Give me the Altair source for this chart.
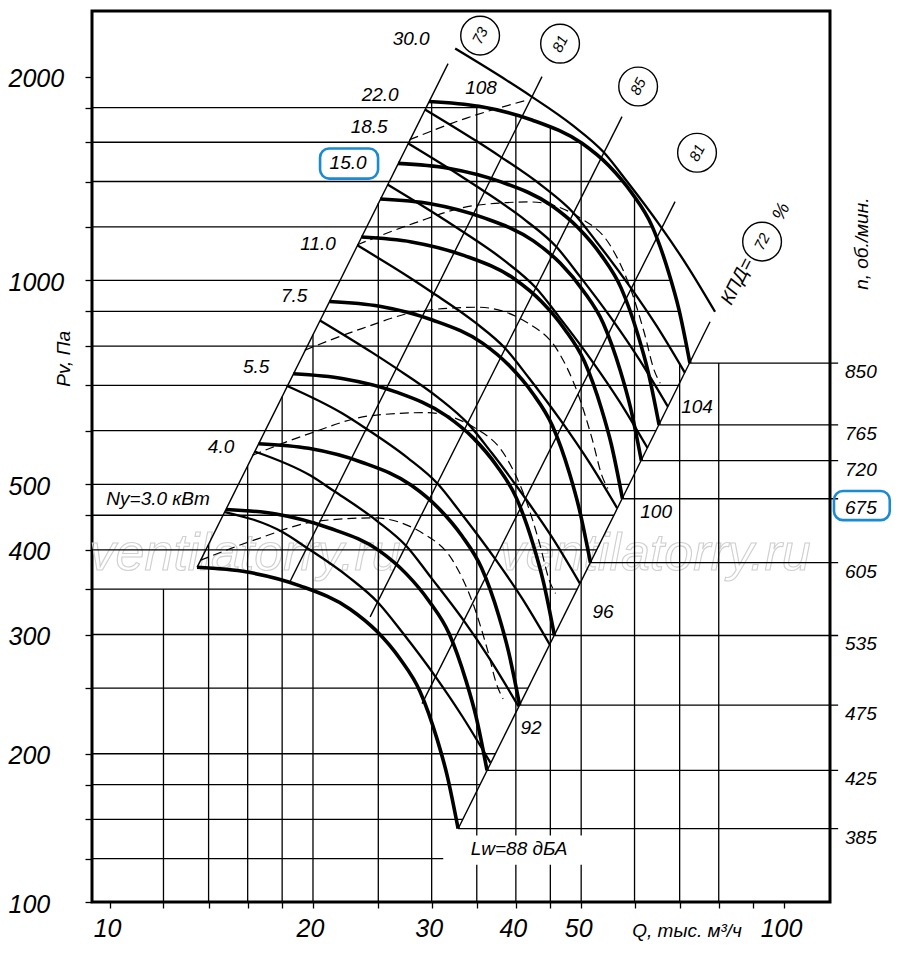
import altair as alt
import pandas as pd

# ---------------- axis values ----------------
Q_MIN, Q_MAX = 9.40, 117.0
P_MIN, P_MAX = 120.8, 2500.0
x_tick_values = [10, 12, 14, 16, 18, 20, 25, 30, 35, 40, 45, 50, 60, 70, 80, 90, 100]
x_label_values = [10, 20, 30, 40, 50, 100]
y_tick_values = [120.8, 140, 160, 180, 200, 250, 300, 350, 400, 450, 500, 600,
                 700, 800, 900, 1000, 1200, 1400, 1600, 1800, 2000]
y_label_values = [200, 300, 400, 500, 1000, 2000]

# ---------------- fan curves (thick), one per rpm ----------------
rpm_values = [385, 425, 475, 535, 605, 675, 720, 765, 850]
fan_q = [
    [13.46, 15.97, 19.14, 22.71, 24.90, 26.94, 28.84, 30.57, 31.62, 32.84],
    [14.86, 17.63, 21.13, 25.07, 27.49, 29.74, 31.84, 33.75, 34.91, 36.25],
    [16.61, 19.70, 23.62, 28.02, 30.72, 33.24, 35.58, 37.72, 39.01, 40.52],
    [18.70, 22.19, 26.60, 31.56, 34.60, 37.44, 40.08, 42.48, 43.94, 45.63],
    [21.15, 25.10, 30.08, 35.69, 39.13, 42.33, 45.32, 48.04, 49.69, 51.61],
    [23.60, 28.00, 33.56, 39.81, 43.65, 47.23, 50.56, 53.60, 55.44, 57.58],
    [25.17, 29.87, 35.79, 42.47, 46.57, 50.38, 53.93, 57.17, 59.13, 61.41],
    [26.75, 31.73, 38.03, 45.13, 49.48, 53.53, 57.30, 60.74, 62.83, 65.25],
    [29.72, 35.26, 42.26, 50.14, 54.97, 59.48, 63.67, 67.49, 69.81, 72.50],
]
fan_p = [
    [377, 371, 354, 327, 303, 276, 247, 210, 186, 155],
    [459, 452, 431, 399, 369, 336, 301, 256, 227, 189],
    [574, 565, 539, 498, 461, 420, 376, 320, 283, 236],
    [728, 716, 684, 631, 585, 533, 477, 406, 359, 299],
    [931, 916, 874, 808, 748, 682, 610, 519, 459, 383],
    [1159, 1140, 1088, 1005, 931, 848, 759, 646, 572, 476],
    [1319, 1298, 1238, 1144, 1060, 965, 864, 735, 651, 542],
    [1489, 1465, 1398, 1291, 1196, 1090, 975, 829, 734, 612],
    [1838, 1808, 1726, 1594, 1477, 1345, 1204, 1024, 907, 755],
]

# ---------------- motor power curves (thin) ----------------
power_labels = ["3.0", "4.0", "5.5", "7.5", "11.0", "15.0", "18.5", "22.0", "30.0"]
power_q = [
    [14.81, 18.02, 19.50, 22.57, 25.01, 27.15, 30.39, 33.32, 36.67],
    [16.39, 19.83, 21.46, 24.85, 27.53, 29.88, 33.44, 36.68, 40.36],
    [18.28, 22.06, 23.87, 27.64, 30.62, 33.24, 37.20, 40.80, 44.90],
    [20.48, 24.46, 26.46, 30.64, 33.94, 36.85, 41.24, 45.23, 49.77],
    [23.27, 27.78, 30.06, 34.80, 38.56, 41.86, 46.85, 51.38, 56.54],
    [25.80, 30.81, 33.34, 38.60, 42.76, 46.42, 51.96, 56.98, 62.70],
    [27.67, 33.04, 35.75, 41.39, 45.86, 49.78, 55.71, 61.10, 67.24],
    [29.32, 35.01, 37.88, 43.85, 48.59, 52.75, 59.03, 64.74, 71.24],
    [32.51, 38.82, 42.00, 48.63, 53.88, 58.49, 65.46, 71.79, 79.00],
]
power_p = [
    [455, 425, 404, 365, 334, 302, 260, 227, 194],
    [559, 515, 489, 442, 405, 365, 315, 275, 235],
    [699, 637, 606, 547, 501, 452, 389, 340, 290],
    [873, 783, 744, 672, 615, 556, 478, 418, 357],
    [1127, 1011, 960, 867, 794, 717, 617, 539, 461],
    [1386, 1243, 1181, 1067, 977, 882, 759, 663, 566],
    [1594, 1429, 1358, 1226, 1123, 1014, 873, 762, 651],
    [1789, 1605, 1525, 1377, 1261, 1139, 980, 856, 731],
    [2200, 1973, 1875, 1693, 1550, 1400, 1205, 1052, 899],
]

# ---------------- dashed curves ----------------
dash_q = [
    [13.60, 16.52, 20.28, 24.56, 29.13, 32.28, 34.56, 36.26, 37.52, 38.30],
    [16.27, 19.76, 24.26, 29.37, 34.84, 38.61, 41.33, 43.37, 44.87, 45.81],
    [19.45, 23.63, 29.01, 35.13, 41.67, 46.17, 49.43, 51.87, 53.67, 54.78],
    [23.27, 28.26, 34.70, 42.02, 49.84, 55.23, 59.13, 62.03, 64.19, 65.52],
    [27.83, 33.80, 41.50],
]
dash_p = [
    [386, 415, 441, 446, 423, 385, 333, 286, 252, 241],
    [552, 594, 631, 638, 605, 550, 476, 409, 360, 345],
    [789, 849, 902, 913, 865, 787, 681, 585, 515, 493],
    [1129, 1215, 1290, 1306, 1237, 1126, 975, 837, 736, 705],
    [1614, 1737, 1846],
]

# ---------------- efficiency lines ----------------
eff_labels = ["73", "81", "85", "81", "72"]
eff_q1 = [13.46, 18.50, 24.31, 29.03, 32.84]
eff_p1 = [377, 359.6, 318.6, 237.2, 155]
eff_q2 = [31.73, 43.74, 57.49, 68.91, 77.66]
eff_p2 = [2090, 2000, 1745.6, 1307.6, 869]
eff_circle_q = [35.40, 46.52, 60.74, 74.28, 92.77]
eff_circle_p = [2299, 2237, 1934, 1544, 1141]

# ---------------- grid lines ----------------
grid_h_p = [140, 160, 180, 200, 250, 300, 350, 400, 450, 500, 600, 700, 800,
            900, 1000, 1200, 1400, 1600, 1800]
grid_h_q_end = [31.21, 33.37, 35.39, 37.30, 41.71, 45.69, 49.35, 52.75, 55.96,
                58.98, 64.61, 69.79, 71.71, 69.93, 67.96, 63.75, 57.61, 49.77, 35.97]
grid_v_q = [12, 14, 16, 18, 20, 25, 30, 35, 40, 45, 50, 60, 70, 80]
grid_v_p_top = [350, 407.9, 532.7, 674.2, 832.4, 1300.6, 1836, 1810, 1752, 1680,
                1596, 1328, 755.5, 755.5]
rpm_line_q_end = 120.3

# ---------------- labels ----------------
ny_text = ["Ny=3.0 кВт", "4.0", "5.5", "7.5", "11.0", "15.0", "18.5", "22.0", "30.0"]
ny_q = [11.78, 14.61, 16.47, 18.75, 20.35, 22.55, 24.23, 25.16, 27.97]
ny_p = [476, 568, 744, 949, 1133, 1492, 1687, 1880, 2276]

lw_text = ["Lw=88 дБА", "92", "96", "100", "104", "108"]
lw_q = [40.44, 42.13, 53.88, 64.59, 74.28, 35.51]
lw_p = [144.8, 218, 323.8, 455.5, 650, 1926]

misc_text = ["Q, тыс. м³/ч", "КПД=", "%"]
misc_q = [71.8, 85.19, 98.97]
misc_p = [109.6, 997, 1264]
misc_angle = [0, 297, 297]

watermark_text = ["ventilatorry.ru", "ventilatorry.ru"]
watermark_q = [15.86, 64.37]
watermark_p = [394, 394]

# highlight boxes (15.0 and 675) and the white patch behind "Lw=88 дБА"
box_q1 = [20.49, 118.6]
box_q2 = [24.98, 143.5]
box_p1 = [1566, 488.8]
box_p2 = [1414, 442.6]
patch_q1, patch_q2, patch_p1, patch_p2 = [33.75], [54.43], [151.4], [137.1]

# ---------------- data frames ----------------
def curves_df(qs, ps, names):
    rows = []
    for name, ql, pl in zip(names, qs, ps):
        for i, (q, p) in enumerate(zip(ql, pl)):
            rows.append({"id": str(name), "i": i, "Q": q, "P": p})
    return pd.DataFrame(rows)

fan_df = curves_df(fan_q, fan_p, rpm_values)
pow_df = curves_df(power_q, power_p, power_labels)
dash_df = curves_df(dash_q, dash_p, [f"d{i}" for i in range(len(dash_q))])

eff_df = pd.DataFrame({"Q": eff_q1, "P": eff_p1, "Q2": eff_q2, "P2": eff_p2})
circ_df = pd.DataFrame({"Q": eff_circle_q, "P": eff_circle_p, "t": eff_labels})

hgrid_df = pd.DataFrame({"Q": [Q_MIN] * len(grid_h_p), "Q2": grid_h_q_end, "P": grid_h_p})
vgrid_df = pd.DataFrame({"Q": grid_v_q, "P": [P_MIN] * len(grid_v_q), "P2": grid_v_p_top})
rpm_df = pd.DataFrame({
    "Q": [q[-1] for q in fan_q],
    "Q2": [rpm_line_q_end] * len(fan_q),
    "P": [p[-1] for p in fan_p],
    "t": [str(r) for r in rpm_values],
})
rpm_lab_df = pd.DataFrame({"Q": [Q_MAX] * len(fan_q), "P": [p[-1] for p in fan_p],
                           "t": [str(r) for r in rpm_values]})

ny_df = pd.DataFrame({"Q": ny_q, "P": ny_p, "t": ny_text})
lw_df = pd.DataFrame({"Q": lw_q, "P": lw_p, "t": lw_text})
misc_df = pd.DataFrame({"Q": misc_q, "P": misc_p, "t": misc_text, "a": misc_angle})
wm_df = pd.DataFrame({"Q": watermark_q, "P": watermark_p, "t": watermark_text})
box_df = pd.DataFrame({"Q": box_q1, "Q2": box_q2, "P": box_p1, "P2": box_p2})
patch_df = pd.DataFrame({"Q": patch_q1, "Q2": patch_q2, "P": patch_p1, "P2": patch_p2})
title_df = pd.DataFrame({"Q": [8.546, 130.5], "P": [766, 1133], "t": ["Pv, Па", "n, об./мин."]})

# ---------------- scales / axes ----------------
AXFONT = "Liberation Sans, Arial, sans-serif"
TXFONT = "Liberation Sans, Arial, sans-serif"

xs = alt.Scale(type="log", domain=[Q_MIN, Q_MAX], nice=False, zero=False)
ys = alt.Scale(type="log", domain=[P_MIN, P_MAX], nice=False, zero=False)

xaxis = alt.Axis(values=x_tick_values,
                 labelExpr="indexof([10,20,30,40,50,100], datum.value) >= 0 ? '' + datum.value : ''",
                 tickSize=6, tickWidth=1.3, tickColor="black", domain=False, grid=False,
                 title=None, labelFont=AXFONT, labelFontSize=25, labelFontStyle="italic",
                 labelColor="black", labelPadding=8, labelOffset=-3,
                 labelOverlap=False, labelFlush=False)
yaxis = alt.Axis(values=y_tick_values,
                 labelExpr="datum.value < 130 ? '100' : (indexof([200,300,400,500,1000,2000], datum.value) >= 0 ? '' + datum.value : '')",
                 tickSize=7, tickWidth=1.3, tickColor="black", domain=False, grid=False,
                 title=None, labelFont=AXFONT, labelFontSize=25, labelFontStyle="italic",
                 labelColor="black", labelAlign="left", labelPadding=77, labelOffset=2,
                 labelOverlap=False, labelFlush=False)

X = alt.X("Q:Q", scale=xs, axis=xaxis)
Y = alt.Y("P:Q", scale=ys, axis=yaxis)
X2 = alt.X2("Q2:Q")
Y2 = alt.Y2("P2:Q")

layers = []

# watermark (outlined)
layers.append(alt.Chart(wm_df).mark_text(
    font=TXFONT, fontSize=52, fontStyle="italic", fillOpacity=0,
    stroke="#cfcfcf", strokeWidth=1.1).encode(x=X, y=Y, text="t:N"))

# grid
layers.append(alt.Chart(hgrid_df).mark_rule(color="black", strokeWidth=1.3).encode(x=X, x2=X2, y=Y))
layers.append(alt.Chart(vgrid_df).mark_rule(color="black", strokeWidth=1.3).encode(x=X, y=Y, y2=Y2))
layers.append(alt.Chart(rpm_df).mark_rule(color="black", strokeWidth=1.3).encode(x=X, x2=X2, y=Y))

# efficiency lines
layers.append(alt.Chart(eff_df).mark_rule(color="black", strokeWidth=1.4).encode(x=X, y=Y, x2=X2, y2=Y2))

# dashed curves
layers.append(alt.Chart(dash_df).mark_line(color="black", strokeWidth=1.2, strokeDash=[9, 5],
                                           interpolate="monotone").encode(
    x=X, y=Y, detail="id:N", order="i:Q"))

# power curves
layers.append(alt.Chart(pow_df).mark_line(color="black", strokeWidth=2.3,
                                          interpolate="monotone").encode(
    x=X, y=Y, detail="id:N", order="i:Q"))

# fan curves
layers.append(alt.Chart(fan_df).mark_line(color="black", strokeWidth=3.6,
                                          interpolate="monotone").encode(
    x=X, y=Y, detail="id:N", order="i:Q"))

# white patch behind Lw label
layers.append(alt.Chart(patch_df).mark_rect(color="white").encode(x=X, x2=X2, y=Y, y2=Y2))

# efficiency circles
layers.append(alt.Chart(circ_df).mark_point(shape="circle", size=1500, filled=False,
                                            color="black", strokeWidth=1.4, opacity=1).encode(x=X, y=Y))
layers.append(alt.Chart(circ_df).mark_text(font=TXFONT, fontSize=15, fontStyle="italic",
                                           angle=297, color="black").encode(x=X, y=Y, text="t:N"))

# labels
layers.append(alt.Chart(ny_df).mark_text(font=TXFONT, fontSize=19, fontStyle="italic",
                                         color="black").encode(x=X, y=Y, text="t:N"))
layers.append(alt.Chart(lw_df).mark_text(font=TXFONT, fontSize=19, fontStyle="italic",
                                         color="black").encode(x=X, y=Y, text="t:N"))
layers.append(alt.Chart(misc_df).mark_text(font=TXFONT, fontSize=19, fontStyle="italic",
                                           color="black").encode(x=X, y=Y, text="t:N",
                                                                 angle=alt.Angle("a:Q", scale=None)))
layers.append(alt.Chart(rpm_lab_df).mark_text(font=TXFONT, fontSize=19, fontStyle="italic",
                                              color="black", align="left", dx=15, dy=9).encode(
    x=X, y=Y, text="t:N"))
layers.append(alt.Chart(title_df).mark_text(font=TXFONT, fontSize=19, fontStyle="italic",
                                            color="black", angle=270).encode(x=X, y=Y, text="t:N"))

# highlight boxes
layers.append(alt.Chart(box_df).mark_rect(fillOpacity=0, stroke="#1a8ad4", strokeWidth=2.6,
                                          cornerRadius=9).encode(x=X, x2=X2, y=Y, y2=Y2))

chart = alt.layer(*layers).properties(
    width=738, height=891,
    padding={"left": 0, "top": 3, "right": 0, "bottom": 0},
    background="white",
).configure_view(stroke="black", strokeWidth=3)

chart.save("out.html", embed_options={"renderer": "svg", "actions": False})
